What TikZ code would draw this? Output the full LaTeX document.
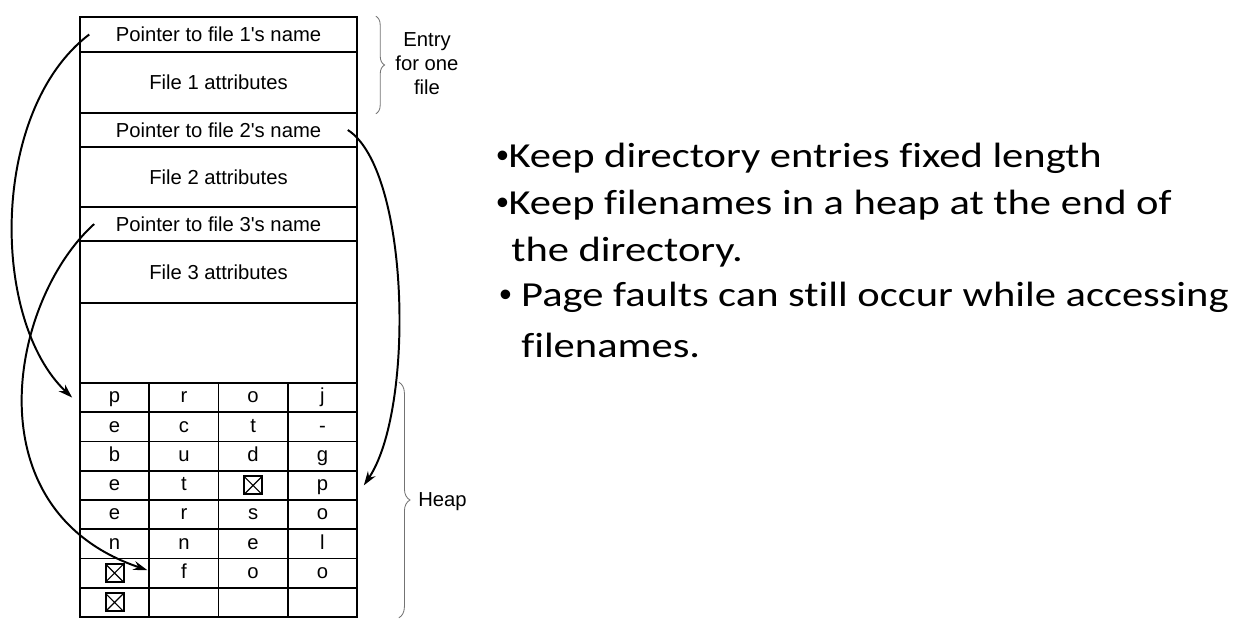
\documentclass[tikz,border=0pt]{standalone}
\usepackage{fontspec}
\setmainfont{Liberation Sans}
\newfontfamily\slidefont[FakeStretch=1.21,Ligatures=NoCommon]{Carlito}
\newfontfamily\dotfont{Liberation Sans}
\usetikzlibrary{arrows.meta,decorations.pathreplacing}
\definecolor{bracegray}{gray}{0.45}
\newcommand{\dotmark}{{\dotfont •}}

\begin{document}
\begin{tikzpicture}[x=0.025cm, y=-0.025cm, >={Stealth[length=10pt,width=6.5pt]},
  dirrow/.style={draw, line width=1.1pt, minimum width=6.925cm, inner sep=0pt, font=\fontsize{14.4}{17}\selectfont},
  cell/.style={draw, line width=1.1pt, minimum width=1.73125cm, minimum height=0.73125cm, inner sep=0pt,
    text height=7.5pt, text depth=0pt, font=\fontsize{14.4}{17}\selectfont},
  endmark/.style={draw, line width=1.4pt, minimum size=0.45cm, inner sep=0pt,
    path picture={\draw [line width=0.8pt] (path picture bounding box.south west) -- (path picture bounding box.north east)
      (path picture bounding box.north west) -- (path picture bounding box.south east);}},
  pointer/.style={->, line width=1.4pt},
  bracket/.style={decorate, decoration={brace, amplitude=#1}, draw=bracegray, line width=0.6pt},
  bracket/.default=0.22cm,
  slidetext/.style={anchor=base west, inner sep=0pt, font=\slidefont\fontsize{25}{30}\selectfont}]
\useasboundingbox (0,0) rectangle (1250,642);
% directory entries
\node  (ptr1) at (218.5, 34.5) [dirrow, minimum height=0.875cm] {Pointer to file 1\textquotesingle s name};
\node (attr1) at (218.5, 82.5) [dirrow, minimum height=1.525cm] {File 1 attributes};
\node  (ptr2) at (218.5,130)   [dirrow, minimum height=0.85cm] {Pointer to file 2\textquotesingle s name};
\node (attr2) at (218.5,177)   [dirrow, minimum height=1.5cm] {File 2 attributes};
\node  (ptr3) at (218.5,224)   [dirrow, minimum height=0.85cm] {Pointer to file 3\textquotesingle s name};
\node (attr3) at (218.5,272)   [dirrow, minimum height=1.55cm] {File 3 attributes};
\node (unused) at (218.5,343)  [dirrow, minimum height=2cm] {};
% heap
\node (h11) at (114.6,397.6) [cell] {p};
\node (h12) at (183.9,397.6) [cell] {r};
\node (h13) at (253.1,397.6) [cell] {o};
\node (h14) at (322.4,397.6) [cell] {j};
\node (h21) at (114.6,426.9) [cell] {e};
\node (h22) at (183.9,426.9) [cell] {c};
\node (h23) at (253.1,426.9) [cell] {t};
\node (h24) at (322.4,426.9) [cell] {-};
\node (h31) at (114.6,456.1) [cell] {b};
\node (h32) at (183.9,456.1) [cell] {u};
\node (h33) at (253.1,456.1) [cell] {d};
\node (h34) at (322.4,456.1) [cell] {g};
\node (h41) at (114.6,485.4) [cell] {e};
\node (h42) at (183.9,485.4) [cell] {t};
\node (h43) at (253.1,485.4) [cell] {};
\node (h44) at (322.4,485.4) [cell] {p};
\node (h51) at (114.6,514.6) [cell] {e};
\node (h52) at (183.9,514.6) [cell] {r};
\node (h53) at (253.1,514.6) [cell] {s};
\node (h54) at (322.4,514.6) [cell] {o};
\node (h61) at (114.6,543.9) [cell] {n};
\node (h62) at (183.9,543.9) [cell] {n};
\node (h63) at (253.1,543.9) [cell] {e};
\node (h64) at (322.4,543.9) [cell] {l};
\node (h71) at (114.6,573.1) [cell] {};
\node (h72) at (183.9,573.1) [cell] {f};
\node (h73) at (253.1,573.1) [cell] {o};
\node (h74) at (322.4,573.1) [cell] {o};
\node (h81) at (114.6,602.4) [cell] {};
\node (h82) at (183.9,602.4) [cell] {};
\node (h83) at (253.1,602.4) [cell] {};
\node (h84) at (322.4,602.4) [cell] {};
% end of name marks
\node (end1) at (h43) [endmark] {};
\node (end2) at (h71) [endmark] {};
\node (end3) at (h81) [endmark] {};
% pointers into the heap
\draw [pointer] ([xshift=0.25cm]ptr1.west) .. controls (-10,110) and (-10,320) .. ([xshift=-0.175cm]h11.west);
\draw [pointer] ([xshift=-0.25cm]ptr2.east) .. controls (410,170) and (415,410) .. ([xshift=0.15cm]h44.east);
\draw [pointer] ([xshift=0.375cm]ptr3.west) .. controls (10,300) and (-30,510) .. ([xshift=-0.03cm,yshift=0.075cm]h72.west);
% braces
\draw [bracket] ([xshift=0.45cm]ptr1.north east) -- ([xshift=0.45cm]attr1.south east);
\draw [bracket=0.28cm] ([xshift=1.025cm]h14.north east) -- ([xshift=1.025cm]h84.south east);
\node (entry) at (427,64) [align=center, font=\fontsize{14.4}{17}\selectfont] {Entry\\for one\\file};
\node (heap) at (418,502) [anchor=west, inner sep=0pt, font=\fontsize{14.4}{17}\selectfont] {Heap};
% bullet points
\node  (keep1) at (496,168) [slidetext] {\dotmark Keep directory entries fixed length};
\node  (keep2) at (496,215) [slidetext] {\dotmark Keep filenames in a heap at the end of};
\node (keep2b) at (511,262) [slidetext] {the directory.};
\node (fault1) at (499,307) [slidetext] {\dotmark{} Page faults can still occur while accessing};
\node (fault1b) at (521,358) [slidetext] {filenames.};
\end{tikzpicture}
\end{document}
